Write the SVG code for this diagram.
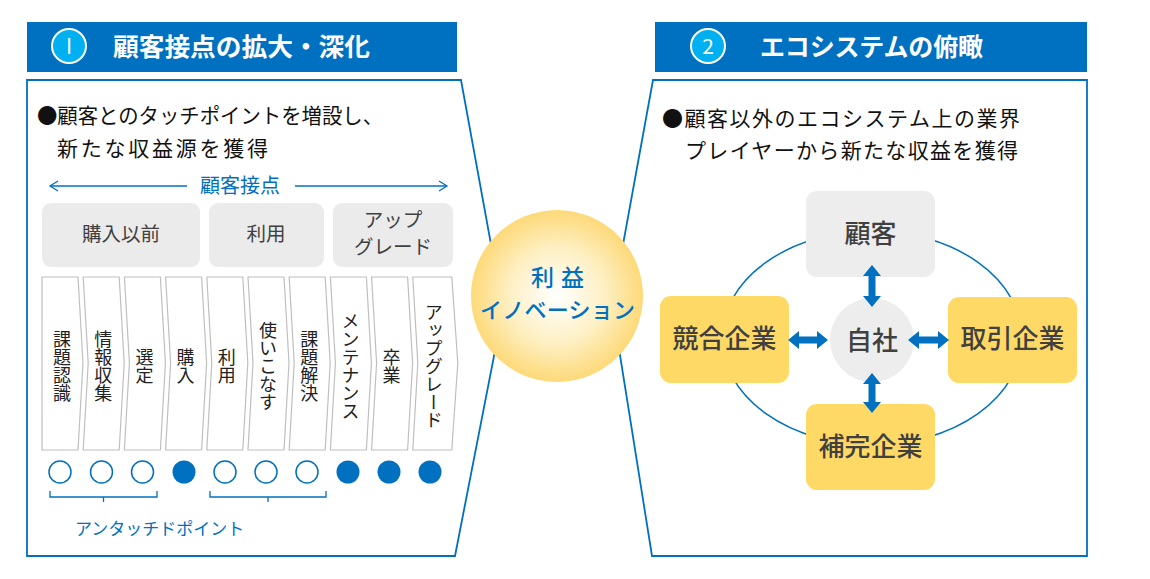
<svg xmlns="http://www.w3.org/2000/svg" width="1150" height="579" viewBox="0 0 1150 579">
<style>
text{font-family:"Noto Sans CJK JP","Noto Sans",sans-serif;}
.hdr{fill:#0070C0;}
.num{fill:#00B0F0;stroke:#fff;stroke-width:2;}
.numt{fill:#fff;font-size:21px;text-anchor:middle;}
.title{fill:#fff;font-size:25px;font-weight:bold;}
.panel{fill:#fff;stroke:#0070C0;stroke-width:1.8;}
.body{fill:#111;font-size:21px;}
.cat{fill:#EBEBEB;}
.catt{fill:#404040;font-size:19.5px;text-anchor:middle;}
.chev{fill:#fff;stroke:#BFBFBF;stroke-width:1.2;}
.vt{fill:#222;font-size:18px;text-anchor:middle;writing-mode:vertical-rl;}
.dot{fill:#fff;stroke:#0070C0;stroke-width:1.5;}
.dotf{fill:#0070C0;}
.ln{fill:none;stroke:#0070C0;stroke-width:1.3;}
.gbox{fill:#EDEDED;}
.ybox{fill:#FFD966;}
.bt{fill:#404040;font-size:26px;text-anchor:middle;font-weight:500;}
.ctr{fill:#0070C0;font-size:22px;font-weight:500;}
.ctr-big{font-size:23px;}
.arr{fill:#0070C0;}
</style>
<defs>
<radialGradient id="glow" cx="0.5" cy="0.5" r="0.5">
<stop offset="0" stop-color="#FFFFFF"/>
<stop offset="0.55" stop-color="#FEF0C4"/>
<stop offset="1" stop-color="#FDD978"/>
</radialGradient>
</defs>

<g id="panel-left">
<polygon class="panel" points="27,80 461,80 503,310 455,556 27,556"/>
</g>
<g id="panel-right">
<polygon class="panel" points="653,80 1087,80 1087,556 652,556 612,305"/>
</g>

<g id="header-left">
<rect class="hdr" x="27" y="22" width="430" height="50"/>
<circle class="num" cx="69" cy="46" r="17"/>
<text class="numt" x="69" y="54">I</text>
<text class="title" x="113" y="56" textLength="257" lengthAdjust="spacingAndGlyphs">顧客接点の拡大・深化</text>
</g>
<g id="header-right">
<rect class="hdr" x="655" y="22" width="432" height="50"/>
<circle class="num" cx="708" cy="46" r="17"/>
<text class="numt" x="708" y="54">2</text>
<text class="title" x="760" y="56" textLength="223">エコシステムの俯瞰</text>
</g>

<g id="bullet-left">
<text class="body" x="37" y="123" textLength="346" lengthAdjust="spacingAndGlyphs">●顧客とのタッチポイントを増設し、</text>
<text class="body" x="57" y="156" textLength="211">新たな収益源を獲得</text>
</g>

<g id="touchpoint-label">
<line class="ln" x1="50" y1="186" x2="187" y2="186"/>
<line class="ln" x1="295" y1="186" x2="447" y2="186"/>
<polyline class="ln" points="58,181 50,186 58,191"/>
<polyline class="ln" points="439,181 447,186 439,191"/>
<text x="240" y="193" fill="#0070C0" font-size="20" text-anchor="middle">顧客接点</text>
</g>

<g id="cat-before">
<rect class="cat" x="42" y="203" width="158" height="64" rx="9"/>
<text class="catt" x="121" y="241">購入以前</text>
</g>
<g id="cat-use">
<rect class="cat" x="209" y="203" width="115" height="64" rx="9"/>
<text class="catt" x="266" y="241">利用</text>
</g>
<g id="cat-upgrade">
<rect class="cat" x="333" y="203" width="120" height="64" rx="9"/>
<text class="catt" x="393" y="227">アップ</text>
<text class="catt" x="393" y="254">グレード</text>
</g>

<g id="step-1"><path class="chev" d="M42,277 L78,277 L83,363 L78,450 L42,450 Z"/><text class="vt" x="62" y="366">課題認識</text></g>
<g id="step-2"><path class="chev" d="M83.2,277 L119.2,277 L124.2,363 L119.2,450 L83.2,450 L88.2,363 Z"/><text class="vt" x="103.2" y="366">情報収集</text></g>
<g id="step-3"><path class="chev" d="M124.4,277 L160.4,277 L165.4,363 L160.4,450 L124.4,450 L129.4,363 Z"/><text class="vt" x="144.4" y="366">選定</text></g>
<g id="step-4"><path class="chev" d="M165.6,277 L201.6,277 L206.6,363 L201.6,450 L165.6,450 L170.6,363 Z"/><text class="vt" x="185.6" y="366">購入</text></g>
<g id="step-5"><path class="chev" d="M206.8,277 L242.8,277 L247.8,363 L242.8,450 L206.8,450 L211.8,363 Z"/><text class="vt" x="226.8" y="366">利用</text></g>
<g id="step-6"><path class="chev" d="M248,277 L284,277 L289,363 L284,450 L248,450 L253,363 Z"/><text class="vt" x="268" y="366">使いこなす</text></g>
<g id="step-7"><path class="chev" d="M289.2,277 L325.2,277 L330.2,363 L325.2,450 L289.2,450 L294.2,363 Z"/><text class="vt" x="309.2" y="366">課題解決</text></g>
<g id="step-8"><path class="chev" d="M330.4,277 L366.4,277 L371.4,363 L366.4,450 L330.4,450 L335.4,363 Z"/><text class="vt" x="350.4" y="366">メンテナンス</text></g>
<g id="step-9"><path class="chev" d="M371.6,277 L407.6,277 L412.6,363 L407.6,450 L371.6,450 L376.6,363 Z"/><text class="vt" x="391.6" y="366">卒業</text></g>
<g id="step-10"><path class="chev" d="M412.8,277 L451.8,277 L457.8,363 L451.8,450 L412.8,450 L417.8,363 Z"/><text class="vt" x="433.8" y="366">アップグレード</text></g>

<g id="touch-dots">
<circle class="dot" cx="60" cy="472" r="11"/>
<circle class="dot" cx="101.5" cy="472" r="11"/>
<circle class="dot" cx="142.5" cy="472" r="11"/>
<circle class="dotf" cx="184" cy="472" r="11.5"/>
<circle class="dot" cx="225" cy="472" r="11"/>
<circle class="dot" cx="266" cy="472" r="11"/>
<circle class="dot" cx="307" cy="472" r="11"/>
<circle class="dotf" cx="348" cy="472" r="11.5"/>
<circle class="dotf" cx="389" cy="472" r="11.5"/>
<circle class="dotf" cx="430" cy="472" r="11.5"/>
</g>

<g id="untouch-brackets">
<path class="ln" d="M50,491 L50,497 L157,497 L157,491 M103.5,497 L103.5,502"/>
<path class="ln" d="M210,491 L210,497 L326,497 L326,491 M268,497 L268,502"/>
<text x="75" y="535" fill="#0070C0" font-size="17">アンタッチドポイント</text>
</g>

<g id="bullet-right">
<text class="body" x="662" y="126" textLength="358">●顧客以外のエコシステム上の業界</text>
<text class="body" x="685" y="158" textLength="333">プレイヤーから新たな収益を獲得</text>
</g>

<g id="center-innovation">
<circle cx="557" cy="296" r="86" fill="url(#glow)"/>
<text class="ctr ctr-big" x="531" y="286" textLength="53">利益</text>
<text class="ctr" x="480" y="318" textLength="155">イノベーション</text>
</g>

<g id="connectors">
<ellipse cx="872" cy="338" rx="150" ry="107" fill="none" stroke="#0070C0" stroke-width="1.5"/>
</g>

<g id="node-customer">
<rect class="gbox" x="806" y="191" width="129" height="86" rx="11"/>
<text class="bt" x="870.5" y="243">顧客</text>
</g>
<g id="node-self">
<circle class="gbox" cx="872" cy="340" r="42"/>
<text class="bt" x="872" y="350">自社</text>
</g>
<g id="node-competitor">
<rect class="ybox" x="660" y="296" width="129" height="87" rx="11"/>
<text class="bt" x="724.5" y="348">競合企業</text>
</g>
<g id="node-partner">
<rect class="ybox" x="948" y="297" width="129" height="86" rx="11"/>
<text class="bt" x="1012.5" y="348">取引企業</text>
</g>
<g id="node-complement">
<rect class="ybox" x="806" y="404" width="129" height="86" rx="11"/>
<text class="bt" x="870.5" y="456">補完企業</text>
</g>

<g id="arrows">
<path class="arr" d="M872,265 L881,276 L875.5,276 L875.5,296 L881,296 L872,307 L863,296 L868.5,296 L868.5,276 L863,276 Z"/>
<path class="arr" d="M872,373 L881,384 L875.5,384 L875.5,402 L881,402 L872,413 L863,402 L868.5,402 L868.5,384 L863,384 Z"/>
<path class="arr" d="M788,340 L799,331 L799,336.5 L817,336.5 L817,331 L828,340 L817,349 L817,343.5 L799,343.5 L799,349 Z"/>
<path class="arr" d="M908,340 L919,331 L919,336.5 L938,336.5 L938,331 L949,340 L938,349 L938,343.5 L919,343.5 L919,349 Z"/>
</g>
</svg>
